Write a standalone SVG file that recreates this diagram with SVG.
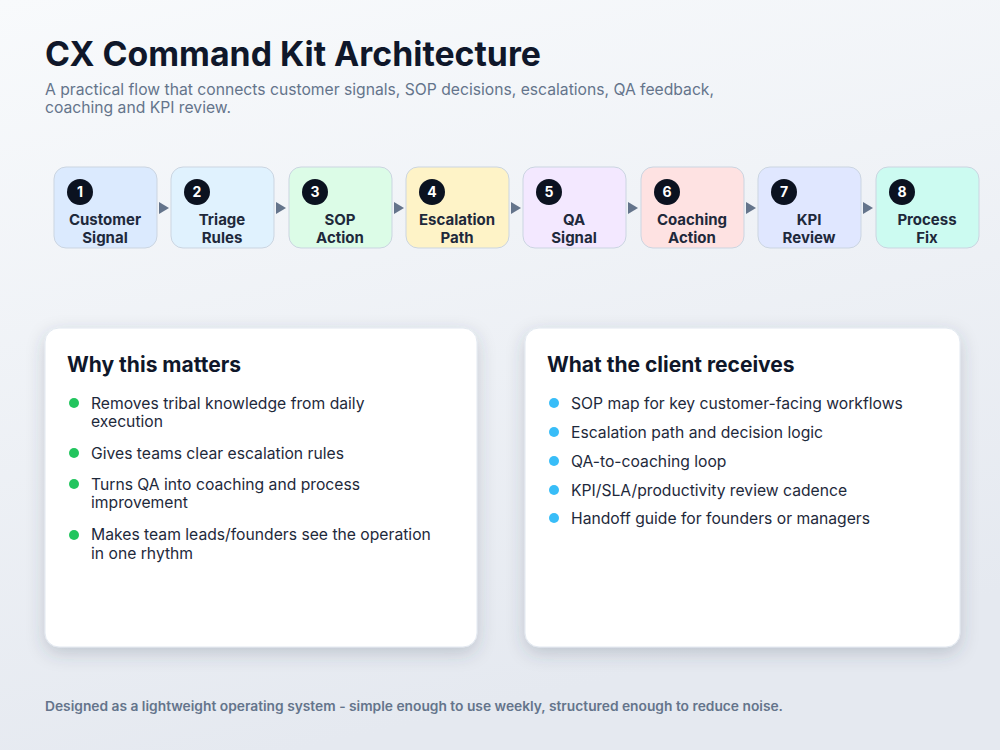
<svg xmlns="http://www.w3.org/2000/svg" width="1000" height="750" viewBox="0 0 1000 750">
<defs>
<linearGradient id="bg" x1="0" y1="0" x2="0.3" y2="1">
<stop offset="0" stop-color="#f8fafc"/>
<stop offset="1" stop-color="#e5e9f0"/>
</linearGradient>
<filter id="sh" x="-10%" y="-10%" width="120%" height="125%">
<feDropShadow dx="0" dy="6" stdDeviation="9" flood-color="#334155" flood-opacity="0.22"/>
</filter>
</defs>
<style>
text{font-family:Inter,"Noto Sans","Liberation Sans",sans-serif}
.title{font-size:34px;font-weight:700;fill:#0f172a}
.sub{font-size:16px;fill:#64748b}
.box{stroke:#cbd5e1;stroke-width:1}
.num{fill:#0b1220}
.numt{font-size:14px;font-weight:700;fill:#ffffff;text-anchor:middle}
.lbl{font-size:15px;font-weight:700;fill:#1e293b;text-anchor:middle}
.card{fill:#ffffff;stroke:#e2e8f0;stroke-width:1}
.h{font-size:21px;font-weight:700;fill:#0f172a}
.it{font-size:15.7px;fill:#1e293b}
.foot{font-size:13px;font-weight:600;fill:#64748b}
</style>
<rect width="1000" height="750" fill="url(#bg)"/>
<text class="title" x="45" y="66" textLength="496" lengthAdjust="spacingAndGlyphs">CX Command Kit Architecture</text>
<text class="sub" x="45" y="95" textLength="669" lengthAdjust="spacingAndGlyphs">A practical flow that connects customer signals, SOP decisions, escalations, QA feedback,</text>
<text class="sub" x="45" y="113" textLength="186" lengthAdjust="spacingAndGlyphs">coaching and KPI review.</text>

<g id="n1"><rect class="box" x="54" y="167" width="103" height="81" rx="12" fill="#dbeafe"/><circle class="num" cx="80" cy="192" r="13"/><text class="numt" x="80" y="197">1</text><text class="lbl" x="105" y="225">Customer</text><text class="lbl" x="105" y="243">Signal</text></g>
<g id="n2"><rect class="box" x="171" y="167" width="103" height="81" rx="12" fill="#e0f2fe"/><circle class="num" cx="197" cy="192" r="13"/><text class="numt" x="197" y="197">2</text><text class="lbl" x="222" y="225">Triage</text><text class="lbl" x="222" y="243">Rules</text></g>
<g id="n3"><rect class="box" x="289" y="167" width="103" height="81" rx="12" fill="#dcfce7"/><circle class="num" cx="315" cy="192" r="13"/><text class="numt" x="315" y="197">3</text><text class="lbl" x="340" y="225">SOP</text><text class="lbl" x="340" y="243">Action</text></g>
<g id="n4"><rect class="box" x="406" y="167" width="103" height="81" rx="12" fill="#fef3c7"/><circle class="num" cx="432" cy="192" r="13"/><text class="numt" x="432" y="197">4</text><text class="lbl" x="457" y="225">Escalation</text><text class="lbl" x="457" y="243">Path</text></g>
<g id="n5"><rect class="box" x="523" y="167" width="103" height="81" rx="12" fill="#f3e8ff"/><circle class="num" cx="549" cy="192" r="13"/><text class="numt" x="549" y="197">5</text><text class="lbl" x="574" y="225">QA</text><text class="lbl" x="574" y="243">Signal</text></g>
<g id="n6"><rect class="box" x="641" y="167" width="103" height="81" rx="12" fill="#fee2e2"/><circle class="num" cx="667" cy="192" r="13"/><text class="numt" x="667" y="197">6</text><text class="lbl" x="692" y="225">Coaching</text><text class="lbl" x="692" y="243">Action</text></g>
<g id="n7"><rect class="box" x="758" y="167" width="103" height="81" rx="12" fill="#e0e7ff"/><circle class="num" cx="784" cy="192" r="13"/><text class="numt" x="784" y="197">7</text><text class="lbl" x="809" y="225">KPI</text><text class="lbl" x="809" y="243">Review</text></g>
<g id="n8"><rect class="box" x="876" y="167" width="103" height="81" rx="12" fill="#ccfbf1"/><circle class="num" cx="902" cy="192" r="13"/><text class="numt" x="902" y="197">8</text><text class="lbl" x="927" y="225">Process</text><text class="lbl" x="927" y="243">Fix</text></g>

<g id="connectors" fill="#64748b">
<path d="M159,202 L169,208 L159,214 z"/>
<path d="M276,202 L286,208 L276,214 z"/>
<path d="M394,202 L404,208 L394,214 z"/>
<path d="M511,202 L521,208 L511,214 z"/>
<path d="M628,202 L638,208 L628,214 z"/>
<path d="M746,202 L756,208 L746,214 z"/>
<path d="M863,202 L873,208 L863,214 z"/>
</g>

<g id="card-why">
<rect class="card" x="45" y="328" width="432" height="319" rx="14" filter="url(#sh)"/>
<text class="h" x="67" y="372">Why this matters</text>
<g fill="#22c55e"><circle cx="74" cy="403" r="5"/><circle cx="74" cy="453" r="5"/><circle cx="74" cy="484" r="5"/><circle cx="74" cy="535" r="5"/></g>
<text class="it" x="91" y="409">Removes tribal knowledge from daily</text>
<text class="it" x="91" y="427">execution</text>
<text class="it" x="91" y="459">Gives teams clear escalation rules</text>
<text class="it" x="91" y="490">Turns QA into coaching and process</text>
<text class="it" x="91" y="508">improvement</text>
<text class="it" x="91" y="540">Makes team leads/founders see the operation</text>
<text class="it" x="91" y="559">in one rhythm</text>
</g>

<g id="card-receives">
<rect class="card" x="525" y="328" width="435" height="319" rx="14" filter="url(#sh)"/>
<text class="h" x="547" y="372">What the client receives</text>
<g fill="#38bdf8"><circle cx="554" cy="403" r="5"/><circle cx="554" cy="432" r="5"/><circle cx="554" cy="461" r="5"/><circle cx="554" cy="490" r="5"/><circle cx="554" cy="518" r="5"/></g>
<text class="it" x="571" y="409">SOP map for key customer-facing workflows</text>
<text class="it" x="571" y="438">Escalation path and decision logic</text>
<text class="it" x="571" y="467">QA-to-coaching loop</text>
<text class="it" x="571" y="496">KPI/SLA/productivity review cadence</text>
<text class="it" x="571" y="524">Handoff guide for founders or managers</text>
</g>

<text class="foot" x="45" y="711" textLength="738" lengthAdjust="spacingAndGlyphs">Designed as a lightweight operating system - simple enough to use weekly, structured enough to reduce noise.</text>
</svg>
